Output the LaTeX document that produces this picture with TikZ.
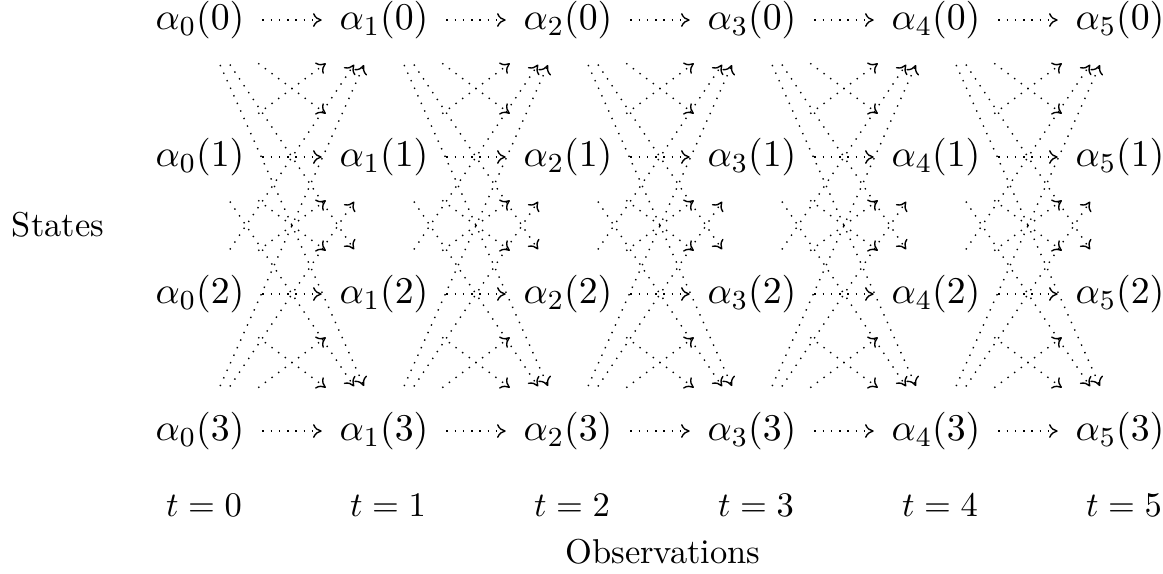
\documentclass[tikz,border=0pt]{standalone}
\usetikzlibrary{arrows.meta}
\begin{document}
\begin{tikzpicture}[x=0.29pt,y=-0.29pt,
  st/.style={inner xsep=3.5pt,inner ysep=6pt,font=\fontsize{10.8}{13}\selectfont},
  tr/.style={dotted,line width=0.4pt,shorten <=1.5pt,shorten >=1.5pt,-{To[length=2.5pt,width=4pt]}}]
\useasboundingbox (0,0) rectangle (1163,573);
\foreach \k in {0,...,5}{
  \foreach \i in {0,...,3}{
    \node[st] (a\k\i) at ({200+184*\k},{20+137*\i}) {$\alpha_{\k}(\i)$};
  }
  \node (t\k) at ({204+184*\k},505) {$t=\k$};
}
\node (states) at (58,225) {States};
\node (obs) at (663,552) {Observations};
\foreach \k [count=\n] in {0,...,4}{
  \foreach \i in {0,...,3}{
    \foreach \j in {0,...,3}{
      \draw[tr] (a\k\i) -- (a\n\j);
    }
  }
}
\end{tikzpicture}
\end{document}
